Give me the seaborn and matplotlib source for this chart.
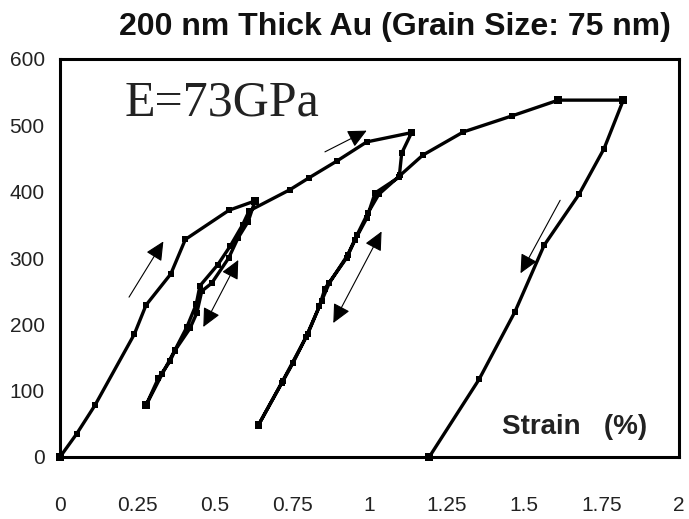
import numpy as np
import pandas as pd
import matplotlib
matplotlib.use("Agg")
import matplotlib.pyplot as plt
import seaborn as sns

# ---- data (strain %, stress MPa) ----
load1_strain = [0.0, 0.054, 0.113, 0.240, 0.278, 0.358, 0.405, 0.546, 0.630]
load1_stress = [0, 35, 78, 185, 229, 276, 328, 372, 386]

unload1_strain = [0.630, 0.608, 0.575, 0.545, 0.490, 0.458, 0.442, 0.420, 0.372, 0.355, 0.318, 0.278]
unload1_stress = [386, 355, 330, 300, 262, 250, 217, 194, 161, 144, 119, 78]

reload1_strain = [0.278, 0.330, 0.370, 0.410, 0.440, 0.452, 0.510, 0.550, 0.590, 0.611]
reload1_stress = [78, 125, 160, 196, 230, 258, 290, 318, 350, 371]

upper1_strain = [0.743, 0.805, 0.894, 0.991, 1.136]
upper1_stress = [403, 421, 446, 475, 489]

unload2_strain = [1.136, 1.104, 1.096, 1.018, 0.991, 0.953, 0.926, 0.856, 0.838, 0.795, 0.752, 0.716, 0.641]
unload2_stress = [489, 458, 422, 398, 360, 327, 300, 254, 227, 181, 141, 111, 48]

reload2_strain = [0.641, 0.720, 0.800, 0.845, 0.870, 0.930, 0.960, 0.995, 1.030, 1.100]
reload2_stress = [48, 115, 185, 235, 262, 305, 335, 368, 396, 425]

upper2_strain = [1.172, 1.303, 1.459, 1.610, 1.820]
upper2_stress = [455, 490, 514, 538, 538]

unload3_strain = [1.820, 1.758, 1.677, 1.564, 1.470, 1.354, 1.193]
unload3_stress = [538, 465, 396, 319, 219, 117, 0]

turn_strain = [0.0, 0.630, 0.278, 1.136, 0.641, 1.610, 1.820, 1.193]
turn_stress = [0, 386, 78, 489, 48, 538, 538, 0]

x_ticks = [0, 0.25, 0.5, 0.75, 1, 1.25, 1.5, 1.75, 2]
x_labels = ["0", "0.25", "0.5", "0.75", "1", "1.25", "1.5", "1.75", "2"]
y_ticks = [0, 100, 200, 300, 400, 500, 600]

# arrows: (tail strain, tail stress, tip strain, tip stress, double-headed)
arrows = [
    (0.223, 241, 0.334, 325, False),
    (0.463, 196, 0.576, 297, True),
    (0.856, 460, 0.991, 492, False),
    (0.883, 202, 1.039, 340, True),
    (1.616, 387, 1.488, 277, False),
]

title = "200 nm Thick Au (Grain Size: 75 nm)"
modulus_text = "E=73GPa"
xlabel_text = "Strain   (%)"

# ---- build path ----
segs = [(load1_strain, load1_stress), (unload1_strain, unload1_stress),
        (reload1_strain, reload1_stress), (upper1_strain, upper1_stress),
        (unload2_strain, unload2_stress), (reload2_strain, reload2_stress),
        (upper2_strain, upper2_stress), (unload3_strain, unload3_stress)]
xs, ys = [], []
for sx, sy in segs:
    xs.extend(sx)
    ys.extend(sy)
df = pd.DataFrame({"strain": xs, "stress": ys, "order": np.arange(len(xs))})
tp = pd.DataFrame({"strain": turn_strain, "stress": turn_stress})

sns.set_style("white")
plt.rcParams["font.family"] = ["Liberation Sans", "DejaVu Sans"]

fig = plt.figure(figsize=(6.89, 5.19), dpi=100)
ax = fig.add_axes([60 / 689, 1 - 457 / 519, 619 / 689, 398 / 519])

sns.lineplot(data=df, x="strain", y="stress", sort=False, estimator=None,
             color="black", lw=2.4, marker="s", markersize=4.2,
             markeredgewidth=0, ax=ax)
sns.scatterplot(data=tp, x="strain", y="stress", marker="s", s=30,
                color="black", edgecolor="none", ax=ax, zorder=5, clip_on=False)

for x0, y0, x1, y1, dbl in arrows:
    hs = "head_length=1.15,head_width=0.55"
    style = ("<|-|>," + hs) if dbl else ("-|>," + hs)
    ax.annotate("", xy=(x1, y1), xytext=(x0, y0),
                arrowprops=dict(arrowstyle=style, color="black", lw=0.8,
                                shrinkA=0, shrinkB=0))

ax.set_xlim(0, 2)
ax.set_ylim(0, 600)
ax.set_xticks(x_ticks)
ax.set_xticklabels(x_labels)
ax.set_yticks(y_ticks)
ax.tick_params(axis="x", length=0, pad=28, labelsize=15, colors="#222222")
ax.tick_params(axis="y", length=0, pad=11, labelsize=15, colors="#222222")
ax.set_xlabel("")
ax.set_ylabel("")
for sp in ax.spines.values():
    sp.set_visible(True)
    sp.set_color("black")
    sp.set_linewidth(2.2)

ax.text(0.21, 533, modulus_text, fontsize=36, family=["Liberation Serif", "DejaVu Serif"],
        ha="left", va="center", color="#222222")
ax.text(1.428, 45, xlabel_text, fontsize=20, fontweight="bold", ha="left",
        va="center", color="#222222")
fig.text(395 / 689, 1 - 27 / 519, title, fontsize=23, fontweight="bold",
         ha="center", va="center", color="#111111")

fig.savefig("out.png", dpi=100)
